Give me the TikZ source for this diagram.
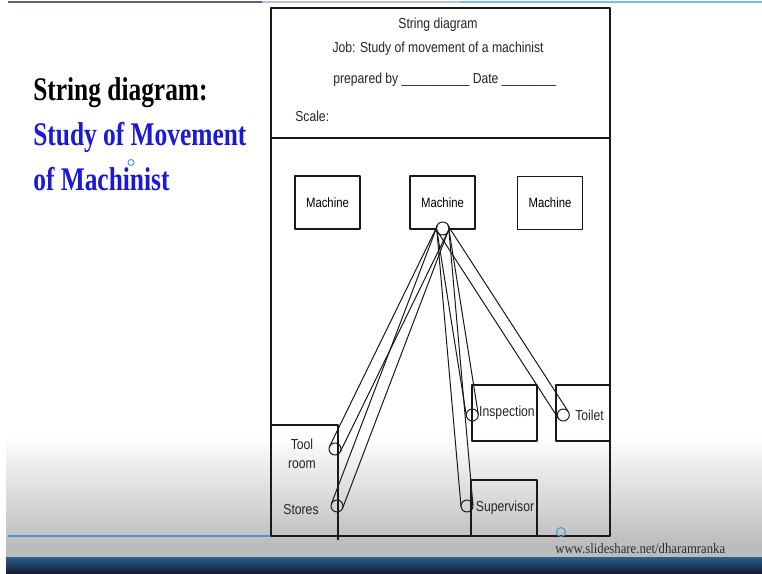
\documentclass[tikz,border=0pt]{standalone}
\usepackage{fontspec}
\setmainfont{Liberation Sans}
\newfontfamily\formfont[FakeStretch=0.84]{Liberation Sans}
\newfontfamily\titlefont[FakeStretch=0.77]{Liberation Serif}
\newfontfamily\markfont[FakeStretch=0.88]{Liberation Serif}
\usetikzlibrary{calc}

\definecolor{titleblue}{RGB}{25,25,215}
\definecolor{inkline}{RGB}{25,25,25}
\definecolor{slidegray}{RGB}{188,188,188}
\definecolor{bandblue}{RGB}{38,98,145}
\definecolor{bandnavy}{RGB}{22,28,50}
\definecolor{rulelight}{RGB}{80,150,215}
\definecolor{markgray}{RGB}{45,45,45}

\begin{document}
\begin{tikzpicture}[
            x = 1pt, y = -1pt, % pixel grid, y going down
            line join = round,
            semithick % line style
        ]

        \tikzstyle{machine}=[
            draw = inkline,
            line width = 1.1pt,
            minimum width = 65pt,
            minimum height = 53pt,
            inner sep = 0pt,
            font = \formfont\fontsize{13.5}{15}\selectfont
        ]
        \tikzstyle{room}=[
            draw = inkline,
            line width = 1.1pt,
            inner sep = 0pt
        ]
        \tikzstyle{peg}=[
            circle,
            draw = inkline,
            line width = 1pt,
            minimum size = 12pt,
            inner sep = 0pt
        ]
        \tikzstyle{formtext}=[
            inner sep = 0pt,
            text = black!85,
            font = \formfont\fontsize{14.5}{18}\selectfont
        ]
        \tikzstyle{title}=[
            anchor = base west,
            inner sep = 0pt,
            font = \titlefont\bfseries\fontsize{33}{40}\selectfont
        ]

	\useasboundingbox (0,0) rectangle (762,573);

	% slide background
	\fill[white] (0,0) rectangle (762,573);
	\shade[top color = white, bottom color = slidegray] (6,436) rectangle (762,545);
	\fill[slidegray] (6,545) rectangle (762,557);
	\shade[top color = bandblue, bottom color = bandnavy] (6,557) rectangle (762,573);
	\draw[line width = 1.5pt, color = {rgb,255:red,90;green,100;blue,130}] (8,2) -- (262,2);
	\draw[line width = 1.5pt, color = {rgb,255:red,185;green,195;blue,215}] (262,2) -- (460,2);
	\draw[line width = 1.5pt, color = {rgb,255:red,120;green,190;blue,235}] (460,2) -- (762,2);
	\draw[line width = 1.2pt, rulelight] (8,536) -- (560,536);

	% slide title
	\node[title] (t1) at (33,100) {String diagram:};
	\node[title, text = titleblue] (t2) at (33,145) {Study of Movement};
	\node[title, text = titleblue] (t3) at (33,190) {of Machinist};

	% sheet and header
	\draw[line width = 1.3pt, inkline] (271,8) rectangle (610,536);
	\draw[line width = 1.3pt, inkline] (271,138) -- (610,138);
	\node[formtext] (h1) at (438,25) {String diagram};
	\node[formtext] (h2) at (438,49) {Job: Study of movement of a machinist};
	\node[formtext, anchor = west] (h3) at (333,80) {prepared by \_\_\_\_\_\_\_\_\_\_ Date \_\_\_\_\_\_\_\_};
	\node[formtext, anchor = west] (h4) at (295,116) {Scale:};

	% work places
	\node[machine] (m1) at (327.5,202.5) {Machine};
	\node[machine] (m2) at (442.5,202.5) {Machine};
	\node[machine] (m3) at (550,203) {Machine};
	\draw[room] (271,425) -- (338,425) -- (338,540);
	\node[formtext, align = center] (toolroom) at (302,454) {Tool\\[1pt]room};
	\node[formtext] (storesroom) at (301,509) {Stores};
	\node[room, minimum width = 65pt, minimum height = 56pt] (insproom) at (504.5,413) {};
	\node[formtext] at (insproom) {\hspace{5pt}Inspection};
	\node[room, minimum width = 54pt, minimum height = 56pt] (toiletroom) at (583,413) {};
	\node[formtext, anchor = west] at (575,415) {Toilet};
	\node[room, minimum width = 66pt, minimum height = 56pt] (superroom) at (504,508) {};
	\node[formtext] at (505,508) {Supervisor};

	% pegs
	\node[peg, fill = white, minimum size = 13pt] (pivot) at (442.7,228.5) {};
	\node[peg] (tool) at (335,449) {};
	\node[peg] (stores) at (337,506) {};
	\node[peg] (insp) at (472.3,415) {};
	\node[peg] (toilet) at (563.3,415) {};
	\node[peg] (super) at (467,506) {};

	% strings
	\foreach \p in {tool, stores, insp, toilet, super} {
	    \draw[line width = 1pt, inkline] ($(pivot.center)!6pt!90:(\p.center)$) -- ($(\p.center)!6pt!-90:(pivot.center)$);
	    \draw[line width = 1pt, inkline] ($(pivot.center)!6pt!-90:(\p.center)$) -- ($(\p.center)!6pt!90:(pivot.center)$);
	}

	% pointer marks
	\draw[line width = 1pt, rulelight] (131,162.5) circle (3pt);
	\draw[line width = 1pt, rulelight] (561,532) circle (4.5pt);

	% footer
	\node[anchor = base west, inner sep = 0pt, text = markgray,
	      font = \markfont\fontsize{14.5}{16}\selectfont] (mark) at (555,553) {www.slideshare.net/dharamranka};

    \end{tikzpicture}
\end{document}
